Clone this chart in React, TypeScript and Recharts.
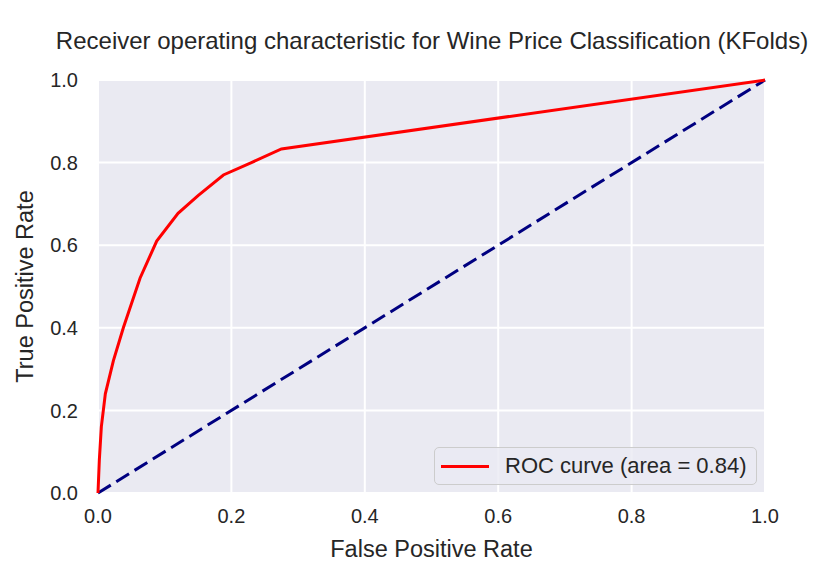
import { LineChart, Line, XAxis, YAxis, CartesianGrid, Legend } from 'recharts'

// ROC curve points
const fpr = [0, 0.002, 0.005, 0.011, 0.023, 0.038, 0.063, 0.088, 0.12, 0.15, 0.188, 0.23, 0.275, 1.0]
const tpr = [0, 0.08, 0.16, 0.24, 0.32, 0.4, 0.52, 0.61, 0.677, 0.72, 0.77, 0.8, 0.833, 1.0]

// chance line
const chanceX = [0, 1]
const chanceY = [0, 1]

const ticks = [0, 0.2, 0.4, 0.6, 0.8, 1.0]
const rocLabel = 'ROC curve (area = 0.84)'
const title = 'Receiver operating characteristic for Wine Price Classification (KFolds)'

const rocData = fpr.map((x, i) => ({ x, y: tpr[i] }))
const chanceData = chanceX.map((x, i) => ({ x, y: chanceY[i] }))

const FONT = 'Liberation Sans, Arial, sans-serif'
const TEXT = '#262626'

const RocLegend = () => (
  <div
    style={{
      display: 'flex',
      alignItems: 'center',
      width: 323,
      height: 38,
      boxSizing: 'border-box',
      border: '1px solid #cccccc',
      borderRadius: 5,
      background: 'rgba(234,234,242,0.8)',
      fontFamily: FONT,
      fontSize: 22,
      color: TEXT,
    }}
  >
    <div style={{ width: 48, height: 3, background: 'red', marginLeft: 6, marginRight: 16 }} />
    <span>{rocLabel}</span>
  </div>
)

export default function App() {
  return (
    <div style={{ position: 'absolute', left: 0, top: 0, width: 837, height: 574, background: 'white' }}>
      <div
        style={{
          position: 'absolute',
          left: 32,
          width: 800,
          top: 27,
          textAlign: 'center',
          fontFamily: FONT,
          fontSize: 24,
          lineHeight: '28px',
          color: TEXT,
          whiteSpace: 'nowrap',
        }}
      >
        {title}
      </div>
      <LineChart
        width={837}
        height={574}
        margin={{ top: 80, right: 72, bottom: 17, left: 0 }}
      >
        <CartesianGrid fill="#eaeaf2" stroke="#ffffff" strokeWidth={2} ticks={ticks} />
        <XAxis
          type="number"
          dataKey="x"
          domain={[0, 1]}
          ticks={ticks}
          tickFormatter={(v: number) => v.toFixed(1)}
          axisLine={false}
          tickLine={false}
          tickSize={0}
          tickMargin={16}
          height={64}
          tick={{ fill: TEXT, fontSize: 20, fontFamily: FONT }}
          label={{ value: 'False Positive Rate', position: 'insideBottom', offset: 0, fill: TEXT, fontSize: 23.5, fontFamily: FONT }}
        />
        <YAxis
          type="number"
          dataKey="y"
          domain={[0, 1]}
          ticks={ticks}
          tickFormatter={(v: number) => v.toFixed(1)}
          axisLine={false}
          tickLine={false}
          tickSize={0}
          tickMargin={20}
          width={98}
          tick={{ fill: TEXT, fontSize: 20, fontFamily: FONT }}
          label={{
            value: 'True Positive Rate',
            angle: -90,
            position: 'insideLeft',
            offset: 25,
            fill: TEXT,
            fontSize: 23.5,
            fontFamily: FONT,
            style: { textAnchor: 'middle' },
          }}
        />
        <Line
          data={chanceData}
          dataKey="y"
          type="linear"
          stroke="#000080"
          strokeWidth={3}
          strokeDasharray="15 6.5"
          dot={false}
          activeDot={false}
          isAnimationActive={false}
        />
        <Line
          data={rocData}
          dataKey="y"
          type="linear"
          stroke="red"
          strokeWidth={3}
          dot={false}
          activeDot={false}
          isAnimationActive={false}
        />
        <Legend
          layout="horizontal"
          verticalAlign="middle"
          align="center"
          content={() => <RocLegend />}
          wrapperStyle={{ position: 'absolute', left: 434, top: 447, width: 323, height: 38 }}
        />
      </LineChart>
    </div>
  )
}
